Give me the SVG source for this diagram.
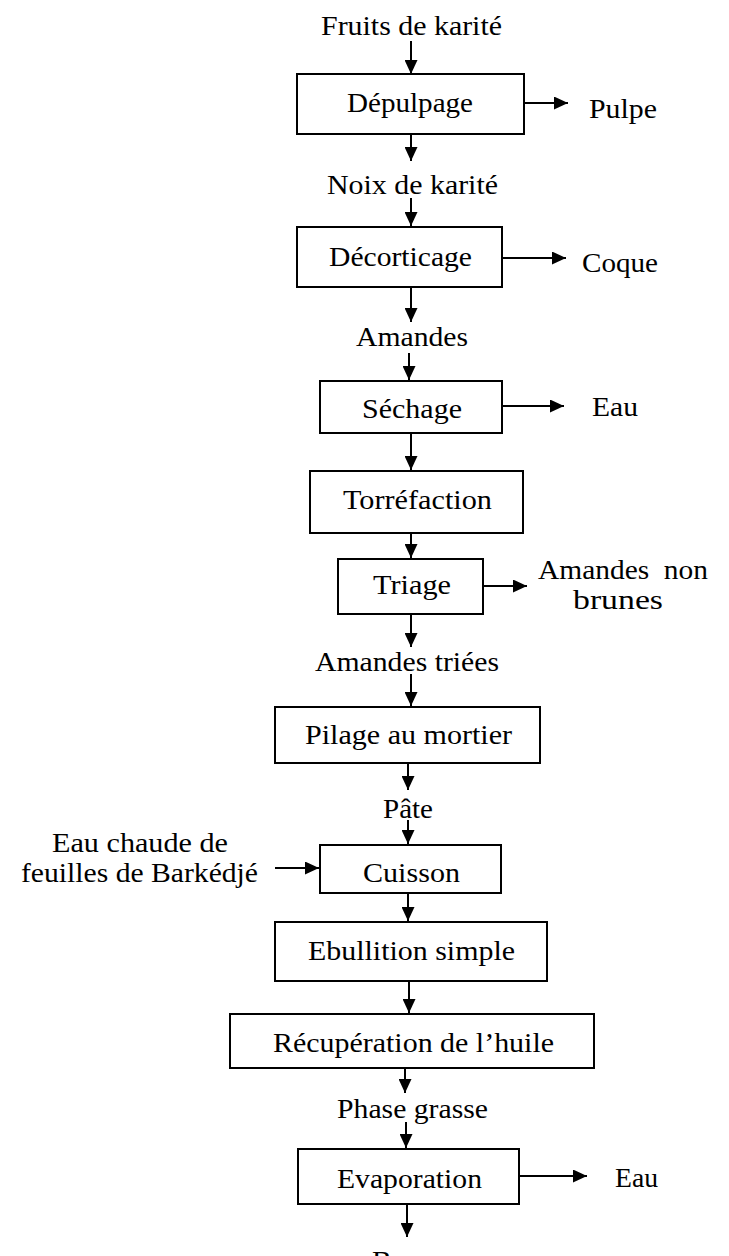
<svg xmlns="http://www.w3.org/2000/svg" width="729" height="1256" viewBox="0 0 729 1256">
<style>
text{font-family:"Liberation Serif","Times New Roman",Times,serif;font-size:27px;fill:#000}
.box{fill:#fff;stroke:#000;stroke-width:2}
.c{stroke:#000;stroke-width:2;fill:none;marker-end:url(#ah)}
</style>
<defs>
<marker id="ah" markerWidth="14" markerHeight="13" refX="14" refY="6.5" orient="auto" markerUnits="userSpaceOnUse"><path d="M0,0 L14,6.5 L0,13 z" fill="#000"/></marker>
</defs>
<rect width="729" height="1256" fill="#fff"/>
<g id="connectors">
<line class="c" x1="411" y1="41" x2="411" y2="74"/>
<line class="c" x1="411" y1="134" x2="411" y2="161"/>
<line class="c" x1="411" y1="198" x2="411" y2="226"/>
<line class="c" x1="411" y1="287" x2="411" y2="322"/>
<line class="c" x1="409" y1="353" x2="409" y2="380"/>
<line class="c" x1="411" y1="433" x2="411" y2="470"/>
<line class="c" x1="411" y1="533" x2="411" y2="558"/>
<line class="c" x1="411" y1="614" x2="411" y2="647"/>
<line class="c" x1="411" y1="674" x2="411" y2="706"/>
<line class="c" x1="408" y1="763" x2="408" y2="790"/>
<line class="c" x1="408" y1="820" x2="408" y2="844"/>
<line class="c" x1="408" y1="893" x2="408" y2="921"/>
<line class="c" x1="409" y1="981" x2="409" y2="1013"/>
<line class="c" x1="405" y1="1067" x2="405" y2="1093"/>
<line class="c" x1="406" y1="1122" x2="406" y2="1148"/>
<line class="c" x1="407" y1="1204" x2="407" y2="1237"/>
<line class="c" x1="524" y1="103" x2="568" y2="103"/>
<line class="c" x1="502" y1="258" x2="566" y2="258"/>
<line class="c" x1="502" y1="406" x2="564" y2="406"/>
<line class="c" x1="483" y1="586" x2="527" y2="586"/>
<line class="c" x1="275" y1="868" x2="319" y2="868"/>
<line class="c" x1="519" y1="1176" x2="587" y2="1176"/>
</g>
<g id="n-depulpage"><rect class="box" x="297" y="74" width="227" height="60"/><text x="347" y="112" textLength="126" lengthAdjust="spacingAndGlyphs">Dépulpage</text></g>
<g id="n-decorticage"><rect class="box" x="297" y="227" width="205" height="60"/><text x="329" y="266" textLength="143" lengthAdjust="spacingAndGlyphs">Décorticage</text></g>
<g id="n-sechage"><rect class="box" x="320" y="381" width="182" height="52"/><text x="362" y="418" textLength="100" lengthAdjust="spacingAndGlyphs">Séchage</text></g>
<g id="n-torrefaction"><rect class="box" x="310" y="471" width="213" height="62"/><text x="343" y="509" textLength="149" lengthAdjust="spacingAndGlyphs">Torréfaction</text></g>
<g id="n-triage"><rect class="box" x="338" y="559" width="145" height="55"/><text x="373" y="594" textLength="78" lengthAdjust="spacingAndGlyphs">Triage</text></g>
<g id="n-pilage"><rect class="box" x="275" y="707" width="265" height="56"/><text x="305" y="744" textLength="207" lengthAdjust="spacingAndGlyphs">Pilage au mortier</text></g>
<g id="n-cuisson"><rect class="box" x="320" y="845" width="181" height="48"/><text x="363" y="882" textLength="97" lengthAdjust="spacingAndGlyphs">Cuisson</text></g>
<g id="n-ebullition"><rect class="box" x="275" y="922" width="272" height="59"/><text x="308" y="960" textLength="207" lengthAdjust="spacingAndGlyphs">Ebullition simple</text></g>
<g id="n-recuperation"><rect class="box" x="230" y="1014" width="364" height="54"/><text x="273" y="1052" textLength="281" lengthAdjust="spacingAndGlyphs">Récupération de l’huile</text></g>
<g id="n-evaporation"><rect class="box" x="298" y="1149" width="221" height="55"/><text x="337" y="1188" textLength="145" lengthAdjust="spacingAndGlyphs">Evaporation</text></g>
<g id="labels">
<text x="321" y="35" textLength="181" lengthAdjust="spacingAndGlyphs">Fruits de karité</text>
<text x="589" y="118" textLength="68" lengthAdjust="spacingAndGlyphs">Pulpe</text>
<text x="327" y="194" textLength="171" lengthAdjust="spacingAndGlyphs">Noix de karité</text>
<text x="582" y="272" textLength="76" lengthAdjust="spacingAndGlyphs">Coque</text>
<text x="356" y="346" textLength="112" lengthAdjust="spacingAndGlyphs">Amandes</text>
<text x="592" y="416" textLength="46" lengthAdjust="spacingAndGlyphs">Eau</text>
<text x="538" y="579" textLength="170" lengthAdjust="spacingAndGlyphs" xml:space="preserve">Amandes  non</text>
<text x="573" y="609" textLength="90" lengthAdjust="spacingAndGlyphs">brunes</text>
<text x="315" y="671" textLength="184" lengthAdjust="spacingAndGlyphs">Amandes triées</text>
<text x="383" y="818" textLength="50" lengthAdjust="spacingAndGlyphs">Pâte</text>
<text x="52" y="852" textLength="176" lengthAdjust="spacingAndGlyphs">Eau chaude de</text>
<text x="21" y="882" textLength="237" lengthAdjust="spacingAndGlyphs">feuilles de Barkédjé</text>
<text x="337" y="1118" textLength="151" lengthAdjust="spacingAndGlyphs">Phase grasse</text>
<text x="615" y="1187" textLength="43" lengthAdjust="spacingAndGlyphs">Eau</text>
<text x="372" y="1270" textLength="80" lengthAdjust="spacingAndGlyphs">Beurre</text>
</g>
</svg>
